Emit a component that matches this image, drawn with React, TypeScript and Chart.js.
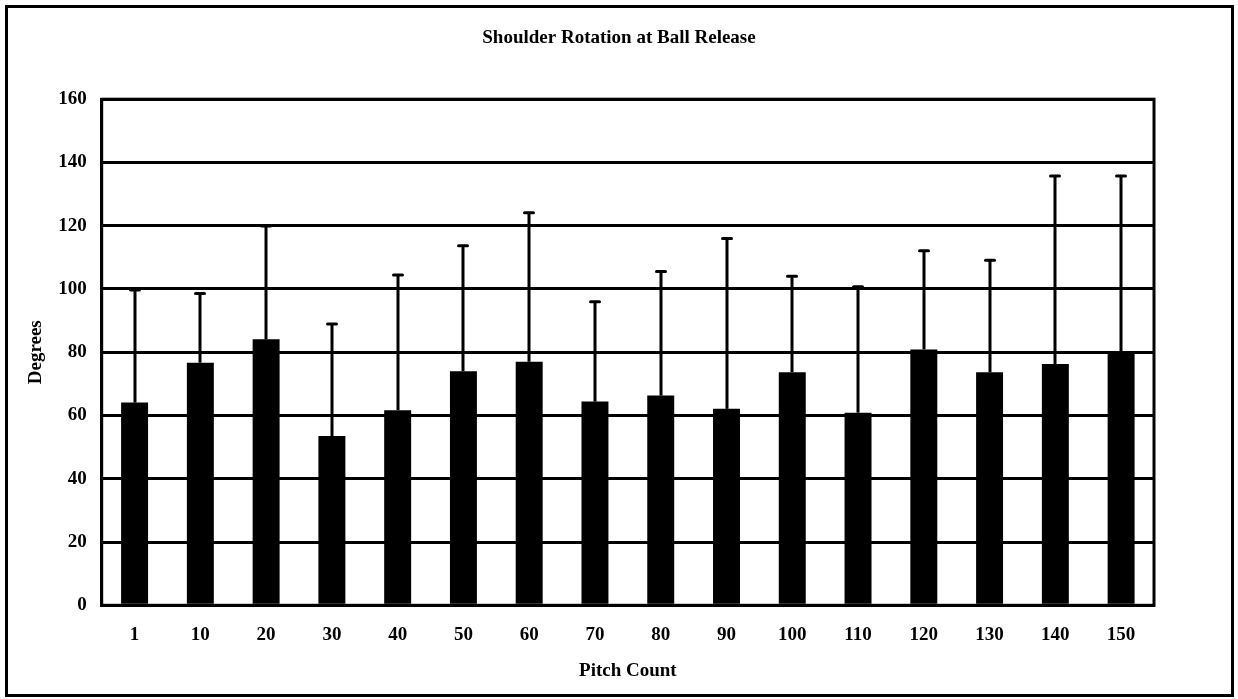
import React, { useEffect, useRef } from "react";
import { Chart, registerables } from "chart.js";

Chart.register(...registerables);

const pitchCounts = ["1", "10", "20", "30", "40", "50", "60", "70", "80", "90", "100", "110", "120", "130", "140", "150"];
const meanDegrees = [64.1, 76.7, 84.1, 53.5, 61.7, 74.0, 77.0, 64.4, 66.3, 62.1, 73.7, 60.9, 80.9, 73.7, 76.3, 80.2];
const sdDegrees = [35.6, 21.9, 35.8, 35.4, 42.7, 39.7, 47.1, 31.6, 39.2, 53.9, 30.3, 39.8, 31.2, 35.4, 59.4, 55.5];
const yMin = 0;
const yMax = 160;
const yStep = 20;

const FONT = '"Liberation Serif", "Times New Roman", serif';

const framePlugin = {
  id: "frame",
  beforeDraw(chart: any) {
    const ctx = chart.ctx;
    ctx.save();
    ctx.fillStyle = "#ffffff";
    ctx.fillRect(0, 0, chart.width, chart.height);
    ctx.restore();
  },
  afterDraw(chart: any) {
    const ctx = chart.ctx;
    ctx.save();
    ctx.strokeStyle = "#000000";
    ctx.lineWidth = 3;
    ctx.strokeRect(6.5, 6.5, chart.width - 12, chart.height - 10);
    ctx.restore();
  },
};

const errorBarPlugin = {
  id: "errorBars",
  afterDatasetsDraw(chart: any) {
    const ctx = chart.ctx;
    const meta = chart.getDatasetMeta(0);
    const yScale = chart.scales.y;
    ctx.save();
    ctx.strokeStyle = "#000000";
    ctx.lineWidth = 3;
    meta.data.forEach((bar: any, i: number) => {
      const x = Math.round(bar.x);
      const top = yScale.getPixelForValue(meanDegrees[i] + sdDegrees[i]);
      ctx.lineCap = "butt";
      ctx.beginPath();
      ctx.moveTo(x, bar.y);
      ctx.lineTo(x, top);
      ctx.stroke();
      ctx.lineCap = "round";
      ctx.beginPath();
      ctx.moveTo(x - 4.5, top);
      ctx.lineTo(x + 4.5, top);
      ctx.stroke();
    });
    const a = chart.chartArea;
    ctx.lineCap = "butt";
    ctx.strokeRect(a.left, a.top, a.right - a.left, a.bottom - a.top);
    ctx.restore();
  },
};

export default function App() {
  const canvasRef = useRef<HTMLCanvasElement | null>(null);

  useEffect(() => {
    if (!canvasRef.current) return;
    const chart = new Chart(canvasRef.current, {
      type: "bar",
      data: {
        labels: pitchCounts,
        datasets: [
          {
            label: "Shoulder Rotation",
            data: meanDegrees,
            backgroundColor: "#000000",
            borderWidth: 0,
            barPercentage: 0.41,
            categoryPercentage: 1,
            yAxisID: "y",
          },
        ],
      },
      options: {
        animation: false,
        responsive: false,
        maintainAspectRatio: false,
        layout: { padding: { left: 20, right: 20, top: 11, bottom: 10 } },
        plugins: {
          legend: { display: false },
          tooltip: { enabled: false },
          title: {
            display: true,
            text: "Shoulder Rotation at Ball Release",
            color: "#000000",
            font: { family: FONT, size: 19, weight: "bold" },
            padding: { top: 16, bottom: 49.4 },
          },
        },
        scales: {
          x: {
            grid: { display: false, drawTicks: false },
            border: { display: true, color: "#000000", width: 3 },
            ticks: {
              color: "#000000",
              font: { family: FONT, size: 19, weight: "bold" },
              padding: 18,
              maxRotation: 0,
              autoSkip: false,
            },
            title: {
              display: true,
              text: "Pitch Count",
              color: "#000000",
              font: { family: FONT, size: 19, weight: "bold" },
              padding: { top: 0, bottom: 6.6 },
            },
            afterFit(scale: any) {
              scale.height = 83.7;
            },
          },
          y: {
            min: yMin,
            max: yMax,
            grid: { color: "#000000", lineWidth: 3, drawTicks: false },
            border: { display: true, color: "#000000", width: 3 },
            ticks: {
              stepSize: yStep,
              color: "#000000",
              font: { family: FONT, size: 19, weight: "bold" },
              padding: 15,
            },
            title: {
              display: true,
              text: "Degrees",
              color: "#000000",
              font: { family: FONT, size: 19, weight: "bold" },
              padding: { top: 5, bottom: 0 },
            },
            afterFit(scale: any) {
              scale.width = 81.7;
            },
          },
          ySpacer: {
            type: "linear",
            position: "right",
            min: yMin,
            max: yMax,
            display: true,
            grid: { display: false, drawTicks: false },
            border: { display: false },
            ticks: { display: false },
            afterFit(scale: any) {
              scale.width = 64;
            },
          },
        },
      },
      plugins: [framePlugin, errorBarPlugin],
    });
    return () => chart.destroy();
  }, []);

  return (
    <div style={{ position: "fixed", left: 0, top: 0, width: 1238, height: 699, background: "#ffffff" }}>
      <canvas ref={canvasRef} width={1238} height={699} />
    </div>
  );
}
